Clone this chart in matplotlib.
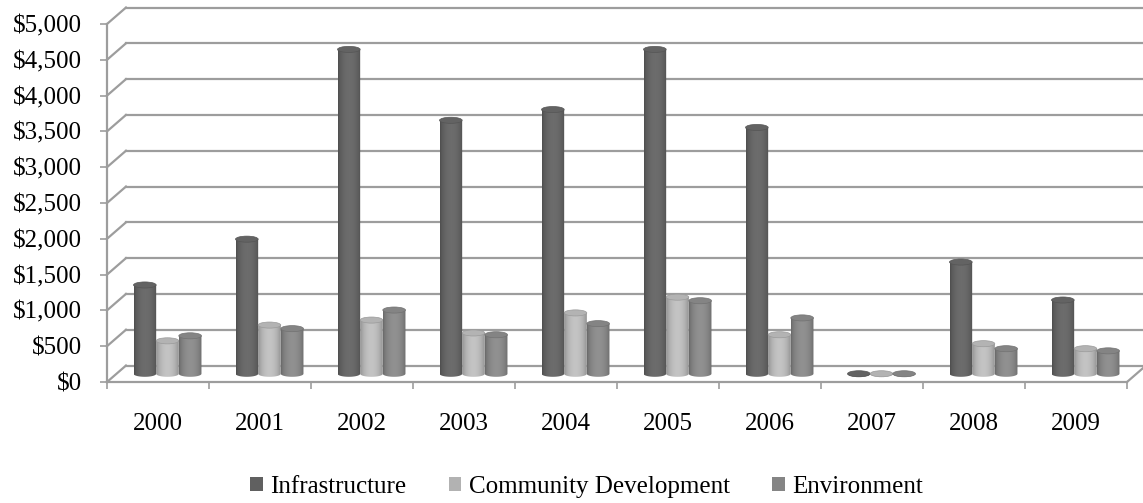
import matplotlib
matplotlib.use('Agg')
import matplotlib.pyplot as plt
import numpy as np
from matplotlib.patches import Polygon, Ellipse, Patch
from matplotlib.colors import to_rgb
from matplotlib.ticker import FuncFormatter, MultipleLocator

# ---- data ----
years = ['2000', '2001', '2002', '2003', '2004', '2005', '2006', '2007', '2008', '2009']
infrastructure = [1240, 1880, 4530, 3540, 3690, 4530, 3440, 0, 1560, 1030]
community_dev = [460, 680, 750, 570, 850, 1070, 545, 0, 420, 350]
environment = [530, 630, 890, 545, 700, 1020, 780, 0, 350, 320]
series_names = ['Infrastructure', 'Community Development', 'Environment']

SERIES = [infrastructure, community_dev, environment]
BASE_COLORS = ['#6a6a6a', '#c0c0c0', '#8e8e8e']
LEGEND_COLORS = ['#606060', '#b2b2b2', '#858585']
GRID_COLOR = '#9d9d9d'
FONT = 'Liberation Serif'

# oblique "3D" depth offset, in data units
DX = 0.186     # categories
DY = 230.0     # dollars
BAR_W = 0.222
ELL_H = 85.0


def gradient(color, n=64):
    t = np.linspace(0, 1, n)
    f = 0.72 + 0.30 * np.sin(np.pi * t) ** 0.6
    rgb = np.clip(np.outer(f, to_rgb(color)), 0, 1)
    return rgb[np.newaxis, :, :]


def draw_cylinder(ax, xc, value, color, z):
    x0, x1 = xc - BAR_W / 2, xc + BAR_W / 2
    y0 = DY / 2
    y1 = y0 + value
    th = np.linspace(np.pi, 2 * np.pi, 40)
    arc = np.column_stack([xc + BAR_W / 2 * np.cos(th),
                           y0 + ELL_H / 2 * np.sin(th)])
    verts = np.vstack([[x0, y1], arc, [x1, y1]])
    body = Polygon(verts, closed=True, transform=ax.transData)
    im = ax.imshow(gradient(color), extent=[x0, x1, y0 - ELL_H, y1],
                   aspect='auto', interpolation='bilinear', zorder=z)
    im.set_clip_path(body)
    base = np.array(to_rgb(color))
    ax.add_patch(Ellipse((xc, y1), BAR_W, ELL_H, facecolor=base * 0.93,
                         edgecolor=base * 0.8, lw=0.5, zorder=z + 0.1))


fig = plt.figure(figsize=(11.43, 5.03), dpi=100)
W, H = 1143, 503
ax = fig.add_axes([107 / W, (H - 382) / H, 1020 / W, 358 / H])

# back wall gridlines and side-wall diagonals
for v in np.arange(0, 5001, 500):
    ax.plot([DX, 10 + DX], [v + DY, v + DY], color=GRID_COLOR, lw=1.6,
            zorder=1, clip_on=False)
    ax.plot([0, DX], [v, v + DY], color=GRID_COLOR, lw=1.6, zorder=1,
            clip_on=False)
ax.plot([10, 10 + DX], [0, DY], color=GRID_COLOR, lw=1.6, zorder=1,
        clip_on=False)

# cylinders
for i in range(len(years)):
    center = i + 0.5 + DX / 2
    for s, vals in enumerate(SERIES):
        xc = center + (s - 1) * BAR_W
        draw_cylinder(ax, xc, vals[i], BASE_COLORS[s], 3 + s * 0.2)

ax.set_xlim(0, 10)
ax.set_ylim(0, 5000)

# axes styling
for side in ['top', 'right']:
    ax.spines[side].set_visible(False)
for side in ['left', 'bottom']:
    ax.spines[side].set_color(GRID_COLOR)
    ax.spines[side].set_linewidth(1.6)

ax.yaxis.set_major_locator(MultipleLocator(500))
ax.yaxis.set_major_formatter(FuncFormatter(lambda v, p: f'${v:,.0f}'))
ax.tick_params(axis='y', direction='out', length=5, width=1.2,
               color=GRID_COLOR, pad=13, labelsize=18)

ax.set_xticks(np.arange(11))
ax.set_xticklabels([])
ax.set_xticks(np.arange(10) + 0.5, minor=True)
ax.set_xticklabels(years, minor=True)
ax.tick_params(axis='x', which='major', direction='out', length=5, width=1.2,
               color=GRID_COLOR)
ax.tick_params(axis='x', which='minor', length=0, pad=22, labelsize=18)

for lab in ax.get_xticklabels(minor=True) + ax.get_yticklabels():
    lab.set_fontfamily(FONT)

handles = [Patch(facecolor=c, edgecolor='none') for c in LEGEND_COLORS]
leg = fig.legend(handles, series_names, loc='center',
                 bbox_to_anchor=(586.5 / W, 1 - 487 / H), ncol=3,
                 frameon=False, handlelength=0.5, handleheight=0.5,
                 handletextpad=0.3, columnspacing=1.7,
                 prop={'family': FONT, 'size': 18})

fig.savefig('out.png', dpi=100)
